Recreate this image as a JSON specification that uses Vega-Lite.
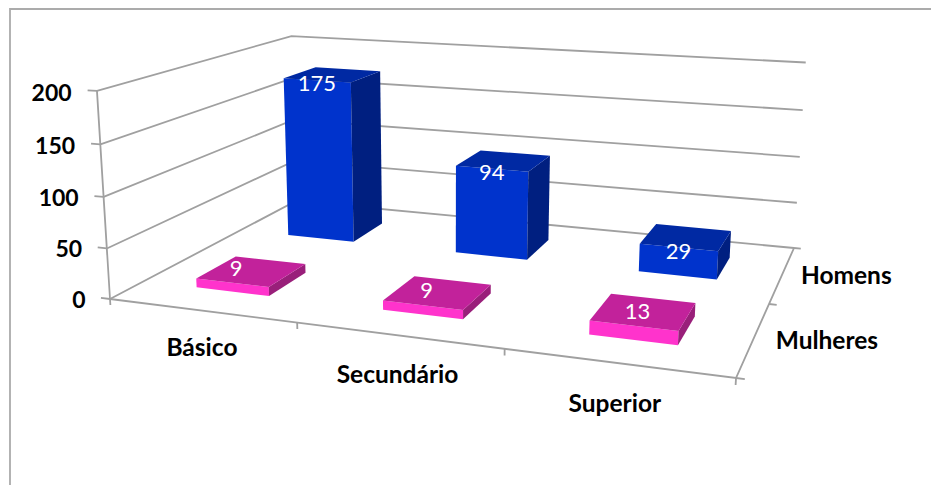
{
  "$schema": "https://vega.github.io/schema/vega-lite/v6.json",
  "autosize": {"type": "none"},
  "padding": {"left": 10, "top": 9, "right": 0, "bottom": 0},
  "width": 921,
  "height": 476,
  "background": "white",
  "config": {"view": {"stroke": null}},
  "datasets": {
    "barras": [
      {"nivel": "Básico", "sexo": "Homens", "valor": 175},
      {"nivel": "Secundário", "sexo": "Homens", "valor": 94},
      {"nivel": "Superior", "sexo": "Homens", "valor": 29},
      {"nivel": "Básico", "sexo": "Mulheres", "valor": 9},
      {"nivel": "Secundário", "sexo": "Mulheres", "valor": 9},
      {"nivel": "Superior", "sexo": "Mulheres", "valor": 13}
    ],
    "moldura": [
      {"canto": 0},
      {"canto": 1},
      {"canto": 2}
    ],
    "eixos": [
      {"eixo": "grelha", "marca": 0},
      {"eixo": "grelha", "marca": 50},
      {"eixo": "grelha", "marca": 100},
      {"eixo": "grelha", "marca": 150},
      {"eixo": "grelha", "marca": 200},
      {"eixo": "valor", "marca": 0},
      {"eixo": "valor", "marca": 50},
      {"eixo": "valor", "marca": 100},
      {"eixo": "valor", "marca": 150},
      {"eixo": "valor", "marca": 200},
      {"eixo": "nivel", "marca": 0},
      {"eixo": "nivel", "marca": 1},
      {"eixo": "nivel", "marca": 2},
      {"eixo": "nivel", "marca": 3},
      {"eixo": "sexo", "marca": 0},
      {"eixo": "sexo", "marca": 1},
      {"eixo": "sexo", "marca": 2},
      {"eixo": "base", "marca": 0},
      {"eixo": "altura", "marca": 0}
    ],
    "rotulosValor": [
      {"rotulo": "0", "marca": 0},
      {"rotulo": "50", "marca": 50},
      {"rotulo": "100", "marca": 100},
      {"rotulo": "150", "marca": 150},
      {"rotulo": "200", "marca": 200}
    ],
    "rotulosNivel": [
      {"rotulo": "Básico", "posicao": 0},
      {"rotulo": "Secundário", "posicao": 1},
      {"rotulo": "Superior", "posicao": 2}
    ],
    "rotulosSexo": [
      {"rotulo": "Mulheres", "posicao": 0},
      {"rotulo": "Homens", "posicao": 1}
    ]
  },
  "encoding": {
    "x": {"field": "px", "type": "quantitative", "axis": null, "scale": {"domain": [10, 931], "nice": false, "zero": false}},
    "y": {"field": "py", "type": "quantitative", "axis": null, "scale": {"domain": [9, 485], "nice": false, "zero": false, "reverse": true}}
  },
  "layer": [
    {
      "description": "Chart frame: left and top edges of the plot",
      "data": {"name": "moldura"},
      "transform": [
        {"calculate": "datum.canto === 2 ? 931 : 10", "as": "px"},
        {"calculate": "datum.canto === 0 ? 485 : 9", "as": "py"}
      ],
      "mark": {"type": "line", "stroke": "#ababab", "strokeWidth": 1.8},
      "encoding": {"order": {"field": "canto", "type": "quantitative"}}
    },
    {
      "description": "Wall gridlines, floor edges and axis ticks, each projected through the chart's camera",
      "data": {"name": "eixos"},
      "transform": [
        {"calculate": "datum.marca / 200", "as": "h"},
        {"calculate": "datum.eixo + '-' + datum.marca", "as": "traco"},
        {"calculate": "datum.eixo === 'grelha' ? [{o:0,u:0,v:0,w:datum.h},{o:1,u:0,v:1,w:datum.h},{o:2,u:1,v:1,w:datum.h}] : datum.eixo === 'valor' ? [{o:0,u:-0.017,v:0,w:datum.h},{o:1,u:0,v:0,w:datum.h}] : datum.eixo === 'nivel' ? [{o:0,u:datum.marca/3,v:0,w:0},{o:1,u:datum.marca/3,v:0,w:-0.03}] : datum.eixo === 'sexo' ? [{o:0,u:1,v:datum.marca/2,w:0},{o:1,u:1.012,v:datum.marca/2,w:0}] : datum.eixo === 'base' ? [{o:0,u:0,v:0,w:0},{o:1,u:1,v:0,w:0},{o:2,u:1,v:1,w:0}] : [{o:0,u:0,v:0,w:0},{o:1,u:0,v:0,w:1}]", "as": "vert"},
        {"flatten": ["vert"]},
        {"calculate": "1 - 0.14704*datum.vert.u + 0.27415*datum.vert.v - 0.037*datum.vert.w", "as": "d"},
        {"calculate": "(517.78*datum.vert.u + 267.15*datum.vert.v - 16.6*datum.vert.w + 110) / datum.d", "as": "px"},
        {"calculate": "(23.42*datum.vert.u - 42.9*datum.vert.v - 211.4*datum.vert.w + 299) / datum.d", "as": "py"}
      ],
      "mark": {"type": "line", "stroke": "#a0a0a0", "strokeWidth": 1.8},
      "encoding": {
        "detail": {"field": "traco"},
        "order": {"field": "vert.o", "type": "quantitative"}
      }
    },
    {
      "description": "The bars: front, right side and top of each one, from its value",
      "data": {"name": "barras"},
      "transform": [
        {"calculate": "(indexof(['Básico','Secundário','Superior'], datum.nivel) + 0.5) / 3", "as": "uc"},
        {"calculate": "datum.sexo === 'Mulheres' ? 0.25 : 0.75", "as": "vc"},
        {"calculate": "datum.uc - 0.0667", "as": "u0"},
        {"calculate": "datum.uc + 0.0667", "as": "u1"},
        {"calculate": "datum.vc - 0.1", "as": "v0"},
        {"calculate": "datum.vc + 0.1", "as": "v1"},
        {"calculate": "datum.valor / 200", "as": "h"},
        {"calculate": "[{f:'frente',o:0,u:datum.u0,v:datum.v0,w:0},{f:'frente',o:1,u:datum.u1,v:datum.v0,w:0},{f:'frente',o:2,u:datum.u1,v:datum.v0,w:datum.h},{f:'frente',o:3,u:datum.u0,v:datum.v0,w:datum.h},{f:'lado',o:0,u:datum.u1,v:datum.v0,w:0},{f:'lado',o:1,u:datum.u1,v:datum.v1,w:0},{f:'lado',o:2,u:datum.u1,v:datum.v1,w:datum.h},{f:'lado',o:3,u:datum.u1,v:datum.v0,w:datum.h},{f:'topo',o:0,u:datum.u0,v:datum.v0,w:datum.h},{f:'topo',o:1,u:datum.u1,v:datum.v0,w:datum.h},{f:'topo',o:2,u:datum.u1,v:datum.v1,w:datum.h},{f:'topo',o:3,u:datum.u0,v:datum.v1,w:datum.h}]", "as": "vert"},
        {"flatten": ["vert"]},
        {"calculate": "datum.sexo + ' ' + datum.vert.f", "as": "face"},
        {"calculate": "datum.nivel + ' ' + datum.face", "as": "poligono"},
        {"calculate": "1 - 0.14704*datum.vert.u + 0.27415*datum.vert.v - 0.037*datum.vert.w", "as": "d"},
        {"calculate": "(517.78*datum.vert.u + 267.15*datum.vert.v - 16.6*datum.vert.w + 110) / datum.d", "as": "px"},
        {"calculate": "(23.42*datum.vert.u - 42.9*datum.vert.v - 211.4*datum.vert.w + 299) / datum.d", "as": "py"}
      ],
      "mark": {"type": "line", "filled": true, "strokeWidth": 0},
      "encoding": {
        "detail": {"field": "poligono"},
        "order": {"field": "vert.o", "type": "quantitative"},
        "color": {
          "field": "face",
          "legend": null,
          "scale": {
            "domain": ["Homens frente", "Homens lado", "Homens topo", "Mulheres frente", "Mulheres lado", "Mulheres topo"],
            "range": ["#0033cc", "#001f80", "#0029a3", "#ff33cc", "#991f7a", "#c2229b"]
          }
        }
      }
    },
    {
      "description": "Value labels on the male bars",
      "data": {"name": "barras"},
      "transform": [
        {"filter": "datum.sexo === 'Homens'"},
        {"calculate": "(indexof(['Básico','Secundário','Superior'], datum.nivel) + 0.5) / 3", "as": "u"},
        {"calculate": "datum.valor / 200", "as": "h"},
        {"calculate": "1 - 0.14704*datum.u + 0.27415*0.65 - 0.037*datum.h", "as": "d"},
        {"calculate": "(517.78*datum.u + 267.15*0.65 - 16.6*datum.h + 110) / datum.d", "as": "px"},
        {"calculate": "(23.42*datum.u - 42.9*0.65 - 211.4*datum.h + 299) / datum.d", "as": "py"}
      ],
      "mark": {"type": "text", "font": "Lato", "fontSize": 22, "color": "white", "baseline": "middle", "dy": 4},
      "encoding": {"text": {"field": "valor", "type": "quantitative"}}
    },
    {
      "description": "Value labels on the female bars",
      "data": {"name": "barras"},
      "transform": [
        {"filter": "datum.sexo === 'Mulheres'"},
        {"calculate": "(indexof(['Básico','Secundário','Superior'], datum.nivel) + 0.5) / 3", "as": "u"},
        {"calculate": "datum.valor / 200", "as": "h"},
        {"calculate": "1 - 0.14704*datum.u + 0.27415*0.15 - 0.037*datum.h", "as": "d"},
        {"calculate": "(517.78*datum.u + 267.15*0.15 - 16.6*datum.h + 110) / datum.d", "as": "px"},
        {"calculate": "(23.42*datum.u - 42.9*0.15 - 211.4*datum.h + 299) / datum.d", "as": "py"}
      ],
      "mark": {"type": "text", "font": "Lato", "fontSize": 22, "color": "white", "baseline": "middle", "dx": 4, "dy": -14},
      "encoding": {"text": {"field": "valor", "type": "quantitative"}}
    },
    {
      "description": "Value axis labels",
      "data": {"name": "rotulosValor"},
      "transform": [
        {"calculate": "datum.marca / 200", "as": "h"},
        {"calculate": "1 + 0.14704*0.05 - 0.037*datum.h", "as": "d"},
        {"calculate": "(-517.78*0.05 - 16.6*datum.h + 110) / datum.d", "as": "px"},
        {"calculate": "(-23.42*0.05 - 211.4*datum.h + 299) / datum.d", "as": "py"}
      ],
      "mark": {"type": "text", "font": "Lato", "fontWeight": "bold", "fontSize": 23, "color": "black", "align": "right", "baseline": "middle", "dx": 2, "dy": 5},
      "encoding": {"text": {"field": "rotulo"}}
    },
    {
      "description": "Education level labels",
      "data": {"name": "rotulosNivel"},
      "transform": [
        {"calculate": "(datum.posicao + 0.5) / 3", "as": "u"},
        {"calculate": "1 - 0.14704*datum.u + 0.037*0.185", "as": "d"},
        {"calculate": "(517.78*datum.u + 16.6*0.185 + 110) / datum.d", "as": "px"},
        {"calculate": "(23.42*datum.u + 211.4*0.185 + 299) / datum.d", "as": "py"}
      ],
      "mark": {"type": "text", "font": "Lato", "fontWeight": "bold", "fontSize": 24.5, "color": "black", "align": "center", "baseline": "middle", "dx": -1, "dy": 1},
      "encoding": {"text": {"field": "rotulo"}}
    },
    {
      "description": "Series labels along the depth axis",
      "data": {"name": "rotulosSexo"},
      "transform": [
        {"calculate": "0.25 + datum.posicao * 0.5", "as": "v"},
        {"calculate": "1 - 0.14704*1.105 + 0.27415*datum.v - 0.037*0.02", "as": "d"},
        {"calculate": "(517.78*1.105 + 267.15*datum.v - 16.6*0.02 + 110) / datum.d", "as": "px"},
        {"calculate": "(23.42*1.105 - 42.9*datum.v - 211.4*0.02 + 299) / datum.d", "as": "py"}
      ],
      "mark": {"type": "text", "font": "Lato", "fontWeight": "bold", "fontSize": 24.5, "color": "black", "align": "center", "baseline": "middle"},
      "encoding": {"text": {"field": "rotulo"}}
    }
  ]
}
